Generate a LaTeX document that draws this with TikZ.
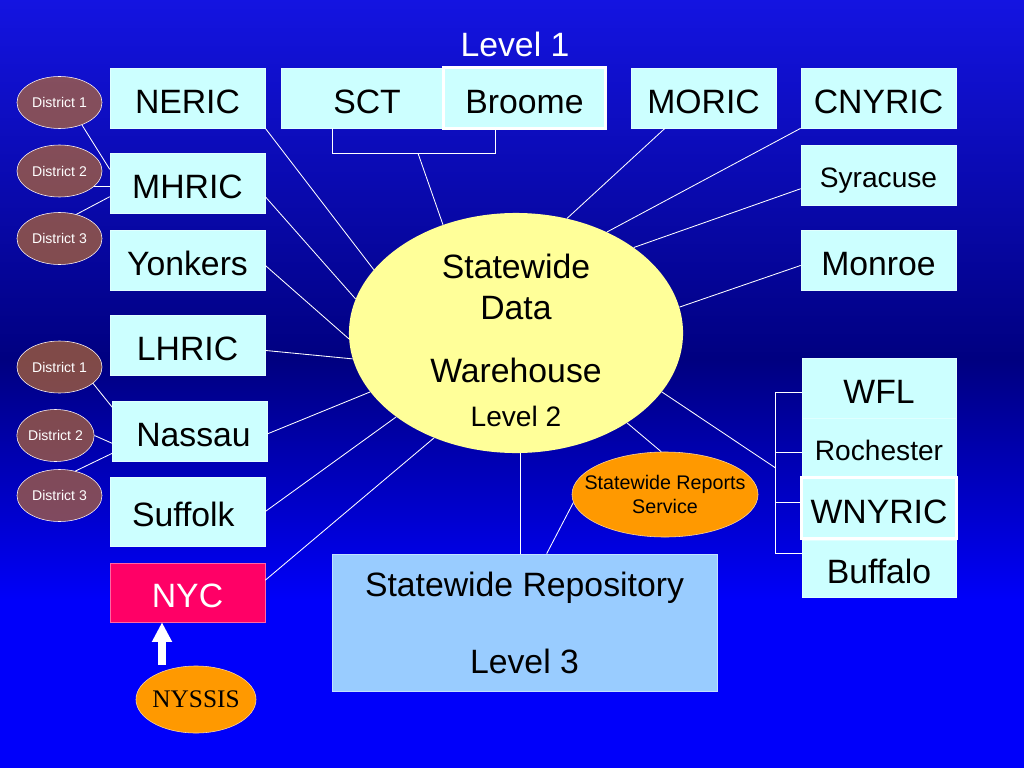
\documentclass[tikz,border=0pt]{standalone}
\usepackage{fontspec}
\setmainfont{Liberation Sans}
\newfontfamily\nyssisserif{Liberation Serif}
\usepackage{xcolor}
\usepackage{tikz}
\usetikzlibrary{arrows.meta}
\usetikzlibrary{shapes.geometric}
\usetikzlibrary{calc}
\definecolor{bgtop}{RGB}{20,20,225}
\definecolor{bgdark}{RGB}{0,0,128}
\definecolor{bgbright}{RGB}{0,0,250}
\definecolor{boxcyan}{RGB}{204,255,255}
\definecolor{repoblue}{RGB}{153,204,255}
\definecolor{nycred}{RGB}{255,0,102}
\definecolor{orangefill}{RGB}{255,153,0}
\definecolor{whyellow}{RGB}{255,255,153}
\definecolor{distbrown}{RGB}{183,106,48}
\newcommand{\boxfont}{\fontsize{24}{28.8}\selectfont}
\newcommand{\midfont}{\fontsize{20}{24}\selectfont}
\newcommand{\levelfont}{\fontsize{20}{28.8}\selectfont}
\newcommand{\srsfont}{\fontsize{14}{16.8}\selectfont}
\newcommand{\distfont}{\fontsize{10}{12}\selectfont}
\tikzset{
    tnode/.style = {align=center, inner sep=0pt, text centered},
    box/.style = {tnode, rectangle, fill=boxcyan, draw=white!40!boxcyan, thin, minimum width=3.875cm, minimum height=1.5cm, font=\boxfont},
    cell/.style = {box, text height=23pt, text depth=1pt},
    midcell/.style = {box, font=\midfont, text height=19.2pt, text depth=0.8pt},
    framed/.style = {draw=white, line width=2pt, minimum width=4.05cm, minimum height=1.525cm},
    warehouse/.style = {tnode, ellipse, fill=whyellow, minimum width=8.35cm, minimum height=6cm},
    district/.style = {tnode, ellipse, fill=distbrown, fill opacity=0.7, text opacity=1, draw=white!85!pink, thin, text=white, minimum width=2.125cm, minimum height=1.3cm, font=\distfont},
    oval/.style = {tnode, ellipse, fill=orangefill, draw=white!60!orangefill, thin},
    conn/.style = {draw=white, line width=0.6pt},
    bigarrow/.style = {draw=white, line width=5pt, -{Triangle[length=14pt, width=13.5pt]}}
}

\begin{document}
\begin{tikzpicture}[x=0.025cm, y=-0.025cm]
            \useasboundingbox (0,0) rectangle (1024,768);
            \shade [top color=bgtop, bottom color=bgdark] (0,0) rectangle (1024,361);
            \shade [top color=bgdark, bottom color=bgbright] (0,360) rectangle (1024,601);
            \fill [bgbright] (0,600) rectangle (1024,768);

            \node (lvl1) [tnode, text=white, font=\boxfont] at (515,44) {Level 1};

            % left column
            \node (neric) [cell] at (187.5,98) {NERIC};
            \node (mhric) [cell] at (187.5,183) {MHRIC};
            \node (yonkers) [cell] at (187.5,260) {Yonkers};
            \node (lhric) [cell] at (187.5,345) {LHRIC};
            \node (nassau) [cell] at (190,431) {\hspace*{5pt}Nassau};
            \node (suffolk) [cell, minimum height=1.725cm] at (187.5,511.5) {Suffolk\hspace*{6pt}};
            \node (nyc) [cell, fill=nycred, draw=white!40!nycred, text=white, minimum height=1.475cm] at (187.5,592.5) {NYC};

            % top row
            \node (sct) [cell, minimum width=4.3cm] at (367,98) {SCT};
            \node (broome) [cell, framed] at (524.5,98) {Broome};
            \node (moric) [cell, minimum width=3.625cm] at (703.5,98) {MORIC};
            \node (cnyric) [cell] at (878.5,98) {CNYRIC};
            \node (syracuse) [midcell] at (878.5,175) {Syracuse};
            \node (monroe) [cell] at (878.5,260) {Monroe};

            % right stack
            \node (wfl) [cell, minimum width=3.85cm] at (879,388) {WFL};
            \node (rochester) [midcell, minimum width=3.85cm] at (879,448) {Rochester};
            \node (buffalo) [cell, minimum width=3.85cm, minimum height=1.425cm] at (879,568.5) {Buffalo};
            \node (wnyric) [cell, framed, minimum width=3.875cm] at (879,508) {WNYRIC};

            % districts
            \node (da1) [district] at (59.5,102.5) {District 1};
            \node (da2) [district] at (59.5,171) {District 2};
            \node (da3) [district] at (59.5,238.5) {District 3};
            \node (db1) [district] at (59.5,367) {District 1};
            \node (db2) [district, minimum width=1.925cm] at (55.5,435.5) {District 2};
            \node (db3) [district] at (59.5,495.5) {District 3};

            % centre
            \node (wh) [warehouse] at (516,333) {};
            \node (whtext) [tnode, font=\boxfont] at (wh.center) {\rule{0pt}{28pt}Statewide\\Data\\[16pt]Warehouse\\[2.5pt]\levelfont Level 2};
            \node (repo) [box, fill=repoblue, draw=white!40!repoblue, minimum width=9.625cm, minimum height=3.425cm] at (524.5,622.5) {Statewide Repository\\[26pt]Level 3};
            \node (srs) [oval, minimum width=4.65cm, minimum height=2.125cm] at (665,494.5) {};
            \node (srstext) [tnode, font=\srsfont] at (srs.center) {Statewide Reports\\Service};
            \node (nyssis) [oval, minimum width=3cm, minimum height=1.675cm] at (196,699.5) {};
            \node (nyssistext) [tnode, font=\fontsize{18}{21}\selectfont\nyssisserif] at (nyssis.center) {NYSSIS};
            \coordinate (arrowfoot) at ($(nyssis.north)+(-34,-1)$);

            % district links
            \draw [conn] (da1.-45) -- (mhric.170);
            \draw [conn] (da2.-25) -- (da2.-25 -| mhric.west);
            \draw [conn] (da3.55) -- (mhric.190);
            \draw [conn] (db1.-26) -- (nassau.163);
            \draw [conn] (db2.east) -- (nassau.189);
            \draw [conn] (db3.57) -- (nassau.196);

            % spokes
            \draw [conn] (neric.south east) -- (wh.156);
            \draw [conn] (mhric.-10) -- (wh.168);
            \draw [conn] (yonkers.-4) -- (wh.182);
            \draw [conn] (lhric.-4) -- (wh.189);
            \draw [conn] (nassau.-2) -- (wh.202);
            \draw [conn] (suffolk.east) -- (wh.215);
            \draw [conn] (nyc.9) -- (wh.232);
            \draw [conn] ($(sct.south)+(-35,0)$) -- ++(0,25) -| ($(broome.south)+(-29.5,0)$);
            \draw [conn] ($(sct.south)+(51,25)$) -- (wh.124);
            \draw [conn] ($(moric.south)+(-38.5,0)$) -- (wh.66);
            \draw [conn] (cnyric.south west) -- (wh.48);
            \draw [conn] (syracuse.190) -- (wh.36);
            \draw [conn] (monroe.184) -- (wh.9);
            \draw [conn] (wfl.183) -- ++(-26,0) |- (buffalo.169);
            \draw [conn] (rochester.183) -- ++(-26,0);
            \draw [conn] (wnyric.176) -- ++(-25.5,0);
            \draw [conn] (wh.338) -- ($(wfl.183)+(-26,76)$);
            \draw [conn] (wh.272) -- (wh.272 |- repo.north);
            \draw [conn] (wh.321) -- (srs.95);
            \draw [conn] (srs.185) -- ($(repo.north west)+(215,0)$);
            \draw [bigarrow] (arrowfoot) -- (arrowfoot |- nyc.south);
\end{tikzpicture}
\end{document}
